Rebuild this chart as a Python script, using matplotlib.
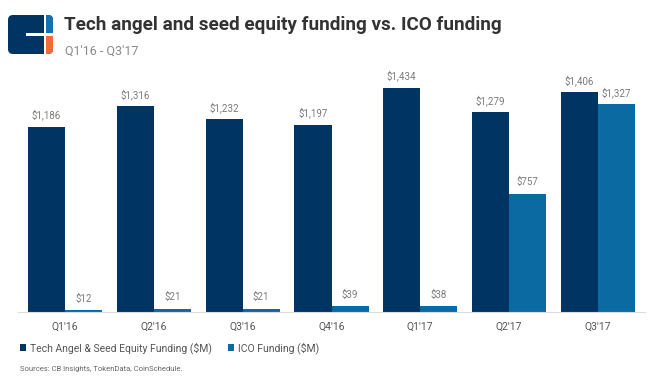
import numpy as np
import matplotlib
matplotlib.use("Agg")
import matplotlib.pyplot as plt
from matplotlib.patches import FancyBboxPatch, Rectangle

plt.rcParams['font.family'] = ['Roboto', 'DejaVu Sans']

quarters = ["Q1'16", "Q2'16", "Q3'16", "Q4'16", "Q1'17", "Q2'17", "Q3'17"]
angel_seed = [1186, 1316, 1232, 1197, 1434, 1279, 1406]
ico = [12, 21, 21, 39, 38, 757, 1327]

DARK = '#003563'
LIGHT = '#0b6aa2'
W, H = 653, 386

fig = plt.figure(figsize=(W / 100, H / 100), dpi=100)
fig.patch.set_facecolor('white')

# main axes, placed in pixel terms
left, right, top, bottom = 18, 645, 75, 312
ax = fig.add_axes([left / W, 1 - bottom / H, (right - left) / W, (bottom - top) / H])

x = np.arange(len(quarters))
bw = 0.417
b1 = ax.bar(x - bw / 2, angel_seed, bw, color=DARK, label='Tech Angel & Seed Equity Funding ($M)')
b2 = ax.bar(x + bw / 2, ico, bw, color=LIGHT, label='ICO Funding ($M)')

for bars, vals in ((b1, angel_seed), (b2, ico)):
    for rect, v in zip(bars, vals):
        ax.text(rect.get_x() + rect.get_width() / 2, v + 40, '${:,}'.format(v),
                ha='center', va='bottom', fontsize=7, color='#7a7a7a')

ax.set_xlim(-0.53, 6.53)
ax.set_ylim(0, (bottom - top) / 0.1564)
ax.set_xticks(x)
ax.set_xticklabels(quarters, fontsize=7.5, color='#555555')
ax.tick_params(axis='x', length=0, pad=7)
ax.set_yticks([])
for s in ['top', 'right', 'left']:
    ax.spines[s].set_visible(False)
ax.spines['bottom'].set_color('#dddddd')
ax.spines['bottom'].set_linewidth(0.8)

leg = fig.legend(handles=[b1, b2], loc='center left', bbox_to_anchor=(20 / W, 1 - 348 / H),
                 ncol=2, frameon=False, fontsize=7.5, handlelength=0.55, handleheight=0.55,
                 handletextpad=0.4, columnspacing=1.6, borderaxespad=0, borderpad=0)
for t in leg.get_texts():
    t.set_color('#555555')

fig.text(20 / W, 1 - 369 / H, 'Sources: CB Insights, TokenData, CoinSchedule.',
         fontsize=5.5, color='#666666', va='center')

# title block
fig.text(64 / W, 1 - 25 / H, 'Tech angel and seed equity funding vs. ICO funding',
         fontsize=13.6, fontweight='bold', color='#333333', va='center')
fig.text(65 / W, 1 - 51 / H, "Q1'16 - Q3'17", fontsize=9, color='#8a8a8a', va='center')

# logo
logo = fig.add_axes([7 / W, 1 - 55 / H, 47 / W, 41 / H])
logo.set_xlim(0, 47)
logo.set_ylim(41, 0)
logo.axis('off')
frame = FancyBboxPatch((1, 1), 45, 39, boxstyle='round,pad=0,rounding_size=5',
                       facecolor=DARK, edgecolor='none')
logo.add_patch(frame)
for patch in [Rectangle((38, 0), 9, 20, facecolor='#1470b0', edgecolor='none'),
              Rectangle((38, 21), 9, 20, facecolor='#f26b38', edgecolor='none'),
              Rectangle((37, 0), 2, 41, facecolor='white', edgecolor='none'),
              Rectangle((19, 19), 28, 3, facecolor='white', edgecolor='none')]:
    logo.add_patch(patch)
    patch.set_clip_path(frame)

fig.savefig('out.png', dpi=100, facecolor='white')
